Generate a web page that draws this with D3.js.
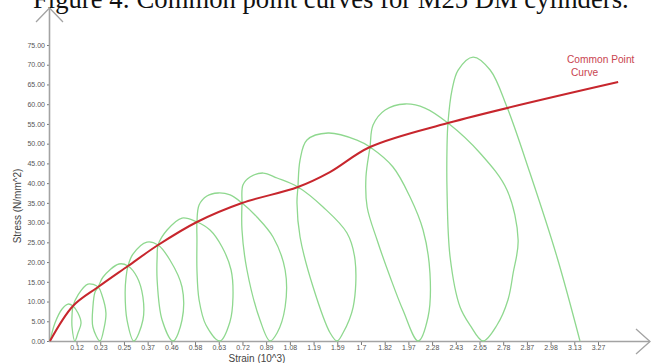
<!DOCTYPE html>
<html>
<head>
<meta charset="utf-8">
<script src="https://cdn.jsdelivr.net/npm/d3@7"></script>
<style>
  body { margin: 0; background: #fff; }
  svg { display: block; }
</style>
</head>
<body>
<svg width="657" height="363"></svg>
<script>

// DATA

// x axis is categorical: one slot per strain reading (10^3)
var strainLabels = ["0.12", "0.23", "0.25", "0.37", "0.46", "0.58", "0.63", "0.72", "0.89",
                    "1.08", "1.19", "1.59", "1.7", "1.82", "1.97", "2.28", "2.43", "2.65",
                    "2.78", "2.87", "2.98", "3.13", "3.27"];

var stressTicks = [0, 5, 10, 15, 20, 25, 30, 35, 40, 45, 50, 55, 60, 65, 70, 75];

// common points [slot, stress] - red curve
var commonPoints = [
  [-0.12, 0], [0.85, 8.87], [1.91, 13.68], [3.17, 19.0], [4.44, 24.32],
  [6.08, 30.15], [7.98, 34.96], [10.34, 39.02], [11.69, 42.8], [13.38, 49.15],
  [16.67, 55.23], [23.85, 65.6]
];

// loading / unloading cycles [slot, stress]
var cycleLoops = [
  [[-0.12, 0], [0.09, 4.56], [0.39, 8.11], [0.64, 9.37], [0.85, 8.87], [1.06, 7.09], [1.19, 4.56],
   [1.06, 2.03], [0.93, 0], [0.81, 3.55], [0.81, 6.59], [0.85, 8.87]],
  [[1.06, 11.65], [1.48, 14.44], [1.91, 13.68], [2.07, 11.65], [2.24, 7.09], [2.16, 3.29],
   [1.99, 0], [1.69, 3.55], [1.69, 8.61], [1.78, 12.41], [1.91, 13.68]],
  [[2.12, 16.21], [2.79, 19.51], [3.17, 19.0], [3.55, 16.21], [3.8, 11.15], [3.8, 5.32],
   [3.42, 0], [3.13, 5.32], [3.05, 12.16], [3.09, 16.21], [3.17, 19.0]],
  [[3.38, 22.04], [3.97, 25.08], [4.44, 24.32], [4.94, 20.52], [5.45, 13.68], [5.45, 5.32],
   [5.07, 0], [4.61, 5.32], [4.4, 15.45], [4.4, 21.28], [4.44, 24.32]],
  [[4.82, 28.12], [5.45, 31.16], [6.08, 30.15], [6.63, 28.12], [7.14, 23.82], [7.52, 17.99],
   [7.6, 11.15], [7.47, 4.81], [7.05, 0], [6.46, 4.05], [6.17, 10.39], [6.08, 17.99],
   [6.08, 25.59], [6.08, 30.15]],
  [[6.17, 34.45], [6.5, 36.74], [6.97, 37.5], [7.48, 37.0], [7.98, 34.96], [8.61, 31.42],
   [9.29, 26.35], [9.8, 17.99], [9.8, 8.61], [9.46, 2.03], [9.16, 0], [8.74, 5.32],
   [8.19, 17.99], [7.98, 28.12], [7.98, 34.96]],
  [[8.02, 39.52], [8.32, 41.55], [8.87, 42.56], [9.46, 41.3], [10.34, 39.02], [11.4, 33.95],
   [12.41, 27.36], [12.75, 20.52], [12.67, 8.61], [12.24, 2.03], [11.99, 0], [11.7, 2.03],
   [10.98, 13.68], [10.43, 26.35], [10.3, 34.96], [10.34, 39.02]],
  [[10.43, 45.86], [10.72, 50.92], [11.61, 52.7], [12.83, 50.92], [13.38, 49.15], [14.35, 44.08],
   [15.07, 36.48], [15.62, 28.12], [15.91, 17.23], [15.83, 6.08], [15.41, 0], [14.77, 7.85],
   [14.23, 16.21], [13.68, 25.59], [13.26, 33.95], [13.21, 41.55], [13.38, 49.15]],
  [[13.51, 54.72], [14.02, 58.53], [14.86, 60.05], [15.7, 59.03], [16.67, 55.23], [18.02, 47.63],
   [19.16, 38.26], [19.63, 25.59], [19.42, 17.23], [19.2, 10.39], [18.74, 4.05], [18.15, 0],
   [17.6, 4.05], [17.18, 8.61], [16.76, 21.28], [16.63, 38.26], [16.63, 49.15], [16.67, 55.23]],
  [[16.84, 63.59], [17.1, 68.66], [17.73, 71.95], [18.45, 68.66], [19.16, 59.28], [20.13, 42.56],
   [21.27, 21.28], [22.24, 0]]
];


// VIEW

var svg = d3.select("svg");

var x = d3.scaleLinear().domain([-0.12, 23]).range([50, 598]);
var y = d3.scaleLinear().domain([0, 75]).range([341, 45]);

var axisColor = "#a3a3a3";
var sans = "Liberation Sans, Arial, sans-serif";

// Title (cut off at the top of the picture, as in the scan)
var title = svg.append("text")
    .attr("x", 33)
    .attr("y", 8)
    .attr("font-family", "Liberation Serif, Times New Roman, serif")
    .attr("font-size", 22)
    .attr("fill", "#111")
    .text("Figure 4: Common point curves for M25 DM cylinders.");
// stretch the font size so the line spans the same width as in the scan
var w = title.node().getComputedTextLength();
title.attr("font-size", 22 * 596 / w);

// Axes
var xAxis = d3.axisBottom(x)
    .tickValues(d3.range(1, strainLabels.length + 1))
    .tickFormat(function(d) { return strainLabels[d - 1]; })
    .tickSize(4)
    .tickPadding(0);

var yAxis = d3.axisLeft(y)
    .tickValues(stressTicks)
    .tickFormat(d3.format(".2f"))
    .tickSize(3)
    .tickPadding(2);

var gx = svg.append("g").attr("transform", "translate(0," + y(0) + ")").call(xAxis);
var gy = svg.append("g").attr("transform", "translate(" + x(-0.12) + ",0)").call(yAxis);

[gx, gy].forEach(function(g) {
  g.select(".domain").remove();
  g.selectAll(".tick line").attr("stroke", "#777");
  g.selectAll(".tick text")
      .attr("fill", "#555")
      .attr("font-family", sans)
      .attr("font-size", 7);
});

// axis lines with open arrow heads
var x0 = x(-0.12), y0 = y(0);
svg.append("line")
    .attr("x1", x0 - 1).attr("y1", y0 + 0.5).attr("x2", 650).attr("y2", y0 + 0.5)
    .attr("stroke", axisColor).attr("stroke-width", 1.6);
svg.append("line")
    .attr("x1", x0 - 0.5).attr("y1", y0 + 1).attr("x2", x0 - 0.5).attr("y2", 8)
    .attr("stroke", axisColor).attr("stroke-width", 1.6);
svg.append("polyline")
    .attr("points", [[636, y0 - 12], [650, y0 + 0.5], [636, y0 + 13]].join(" "))
    .attr("fill", "none").attr("stroke", axisColor).attr("stroke-width", 1.3);
svg.append("polyline")
    .attr("points", [[x0 - 14, 22], [x0 - 0.5, 8], [x0 + 13, 22]].join(" "))
    .attr("fill", "none").attr("stroke", axisColor).attr("stroke-width", 1.3);

// axis titles
svg.append("text")
    .attr("x", 257).attr("y", 362)
    .attr("text-anchor", "middle")
    .attr("font-family", sans)
    .attr("font-size", 10)
    .attr("fill", "#444")
    .text("Strain (10^3)");

svg.append("text")
    .attr("transform", "translate(21,206) rotate(-90)")
    .attr("text-anchor", "middle")
    .attr("font-family", sans)
    .attr("font-size", 10)
    .attr("fill", "#444")
    .text("Stress (N/mm^2)");

// cycles: one continuous green path
var line = d3.line()
    .x(function(d) { return x(d[0]); })
    .y(function(d) { return y(d[1]); })
    .curve(d3.curveCatmullRom.alpha(0.5));

svg.append("path")
    .datum(d3.merge(cycleLoops))
    .attr("d", line)
    .attr("fill", "none")
    .attr("stroke", "#8fd88f")
    .attr("stroke-width", 1.3);

// common point curve
svg.append("path")
    .datum(commonPoints)
    .attr("d", line)
    .attr("fill", "none")
    .attr("stroke", "#c7262d")
    .attr("stroke-width", 2);

// label
var label = svg.append("text")
    .attr("font-family", sans)
    .attr("font-size", 10.2)
    .attr("fill", "#c9444f");
label.append("tspan").attr("x", 567).attr("y", 63).text("Common Point");
label.append("tspan").attr("x", 571).attr("y", 76).text("Curve");

</script>
</body>
</html>
